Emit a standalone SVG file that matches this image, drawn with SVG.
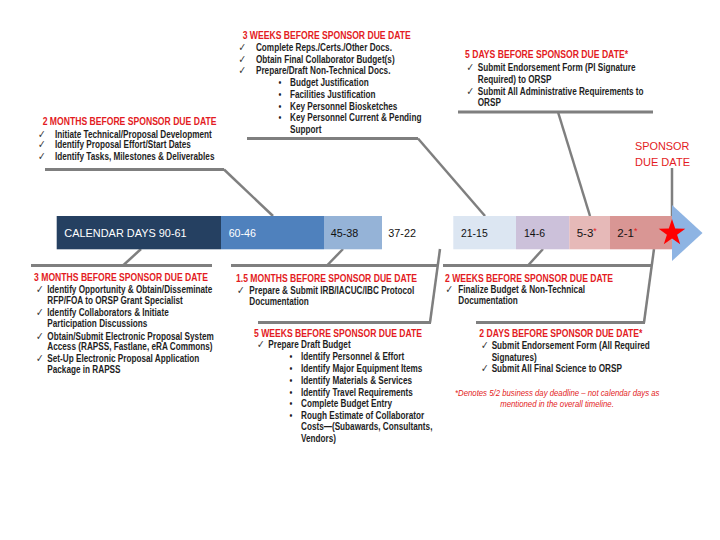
<svg xmlns="http://www.w3.org/2000/svg" width="720" height="540" viewBox="0 0 720 540">
<style>
.t{font-family:"Liberation Sans",Arial,sans-serif;font-weight:bold;font-size:10.5px;fill:#E31B23}
.b{font-family:"Liberation Sans",Arial,sans-serif;font-weight:bold;font-size:10px;fill:#1e1e1e}
.ck{font-family:"DejaVu Sans",sans-serif;font-size:11px;fill:#333}
.bu{font-family:"Liberation Sans",Arial,sans-serif;font-size:10px;fill:#1e1e1e}
.fn{font-family:"Liberation Sans",Arial,sans-serif;font-style:italic;font-size:9.5px;fill:#E31B23}
.bar{font-family:"Liberation Sans",Arial,sans-serif;font-size:11.5px}
.red{font-family:"Liberation Sans",Arial,sans-serif;font-size:11.5px;fill:#E31B23}
.ln{fill:none;stroke:#7F7F7F;stroke-width:2.5}
.hb{fill:none;stroke:#7F7F7F;stroke-width:3}
</style>
<rect width="720" height="540" fill="#fff"/>

<g id="connectors">
  <polyline class="hb" points="45,169.5 224,169.5"/>
  <line class="ln" x1="224" y1="169.5" x2="273" y2="216"/>
  <polyline class="hb" points="247,138.5 418,138.5"/>
  <line class="ln" x1="418" y1="138.5" x2="485" y2="216"/>
  <polyline class="hb" points="458,112 653,112"/>
  <line class="ln" x1="558" y1="112" x2="590" y2="216"/>
  <line class="ln" x1="672" y1="168" x2="672" y2="216"/>
  <line class="ln" x1="141" y1="249" x2="123" y2="265.5"/>
  <polyline class="hb" points="31,265.5 212,265.5"/>
  <line class="ln" x1="343" y1="249" x2="327" y2="265.5"/>
  <polyline class="hb" points="231,265.5 438,265.5"/>
  <line class="ln" x1="440" y1="249" x2="430" y2="322.5"/>
  <polyline class="hb" points="258,322.5 431,322.5"/>
  <line class="ln" x1="543" y1="249" x2="528" y2="265.5"/>
  <polyline class="hb" points="443,265.5 652,265.5"/>
  <line class="ln" x1="654" y1="249" x2="644" y2="322.5"/>
  <polyline class="hb" points="476,322.5 645,322.5"/>
</g>

<g id="timeline">
  <rect x="56.7" y="216" width="164.3" height="33.3" fill="#254061"/>
  <rect x="221" y="216" width="103" height="33.3" fill="#4F81BD"/>
  <rect x="324" y="216" width="58" height="33.3" fill="#95B3D7"/>
  <rect x="453.3" y="216" width="62.7" height="33.3" fill="#DCE6F2"/>
  <rect x="516" y="216" width="53.3" height="33.3" fill="#CCC1DA"/>
  <rect x="569.3" y="216" width="40.7" height="33.3" fill="#E6B9B8"/>
  <rect x="610" y="216" width="62" height="33.3" fill="#D99694"/>
  <polygon points="672,205 702.5,233 672,261" fill="#8EB4E3"/>
  <polygon points="672,219 675.2,228.6 685.3,228.7 677.1,234.7 680.2,244.3 672,238.4 663.8,244.3 666.9,234.7 658.7,228.7 668.8,228.6" fill="#FF0000"/>
  <text class="bar" x="64.3" y="237.3" fill="#fff" textLength="122.4" lengthAdjust="spacingAndGlyphs">CALENDAR DAYS 90-61</text>
  <text class="bar" x="228.7" y="237.3" fill="#fff" textLength="27.3" lengthAdjust="spacingAndGlyphs">60-46</text>
  <text class="bar" x="330.7" y="237.3" fill="#111" textLength="27.6" lengthAdjust="spacingAndGlyphs">45-38</text>
  <text class="bar" x="388.3" y="237.3" fill="#111" textLength="27.7" lengthAdjust="spacingAndGlyphs">37-22</text>
  <text class="bar" x="461" y="237.3" fill="#111" textLength="26.7" lengthAdjust="spacingAndGlyphs">21-15</text>
  <text class="bar" x="524" y="237.3" fill="#111" textLength="21" lengthAdjust="spacingAndGlyphs">14-6</text>
  <text class="bar" x="576.7" y="237.3" fill="#111">5-3<tspan fill="#E31B23" font-size="9" dy="-3">*</tspan></text>
  <text class="bar" x="617.3" y="237.3" fill="#111">2-1<tspan fill="#E31B23" font-size="9" dy="-3">*</tspan></text>
</g>

<g id="sponsor-due-date">
  <text class="red" x="635" y="150.2" textLength="54.3" lengthAdjust="spacingAndGlyphs">SPONSOR</text>
  <text class="red" x="635" y="165.9" textLength="55" lengthAdjust="spacingAndGlyphs">DUE DATE</text>
</g>

<g id="two-months" transform="translate(38 0) scale(0.82 1)">
  <text class="t" x="5.7" y="125.2">2 MONTHS BEFORE SPONSOR DUE DATE</text>
  <text class="ck" x="0" y="137.8">✓</text>
  <text class="ck" x="0" y="148.5">✓</text>
  <text class="ck" x="0" y="160.2">✓</text>
  <text class="b" x="20.7" y="137.8">Initiate Technical/Proposal Development</text>
  <text class="b" x="20.7" y="148.5">Identify Proposal Effort/Start Dates</text>
  <text class="b" x="20.7" y="160.2">Identify Tasks, Milestones &amp; Deliverables</text>
</g>

<g id="three-weeks" transform="translate(238.5 0) scale(0.82 1)">
  <text class="t" x="5.1" y="39.2">3 WEEKS BEFORE SPONSOR DUE DATE</text>
  <text class="ck" x="0" y="50.8">✓</text>
  <text class="ck" x="0" y="62.8">✓</text>
  <text class="ck" x="0" y="74.5">✓</text>
  <text class="b" x="21.3" y="50.8">Complete Reps./Certs./Other Docs.</text>
  <text class="b" x="21.3" y="62.8">Obtain Final Collaborator Budget(s)</text>
  <text class="b" x="21.3" y="74.5">Prepare/Draft Non-Technical Docs.</text>
  <text class="bu" x="48.8" y="86.2">•</text>
  <text class="bu" x="48.8" y="97.9">•</text>
  <text class="bu" x="48.8" y="109.6">•</text>
  <text class="bu" x="48.8" y="121.3">•</text>
  <text class="b" x="62.8" y="86.2">Budget Justification</text>
  <text class="b" x="62.8" y="97.9">Facilities Justification</text>
  <text class="b" x="62.8" y="109.6">Key Personnel Biosketches</text>
  <text class="b" x="62.8" y="121.3">Key Personnel Current &amp; Pending</text>
  <text class="b" x="62.8" y="132.8">Support</text>
</g>

<g id="five-days" transform="translate(466.5 0) scale(0.82 1)">
  <text class="t" x="-1.8" y="58.5">5 DAYS BEFORE SPONSOR DUE DATE*</text>
  <text class="ck" x="0" y="71.2">✓</text>
  <text class="ck" x="0" y="95.2">✓</text>
  <text class="b" x="13.7" y="71.2">Submit Endorsement Form (PI Signature</text>
  <text class="b" x="13.7" y="82.8">Required) to ORSP</text>
  <text class="b" x="13.7" y="95.2">Submit All Administrative Requirements to</text>
  <text class="b" x="13.7" y="106.2">ORSP</text>
</g>

<g id="three-months" transform="translate(36 0) scale(0.82 1)">
  <text class="t" x="-2.4" y="281.2">3 MONTHS BEFORE SPONSOR DUE DATE</text>
  <text class="ck" x="0" y="293.5">✓</text>
  <text class="ck" x="0" y="316.2">✓</text>
  <text class="ck" x="0" y="339.7">✓</text>
  <text class="ck" x="0" y="362.5">✓</text>
  <text class="b" x="13.8" y="293.5">Identify Opportunity &amp; Obtain/Disseminate</text>
  <text class="b" x="13.8" y="304.3">RFP/FOA to ORSP Grant Specialist</text>
  <text class="b" x="13.8" y="316.2">Identify Collaborators &amp; Initiate</text>
  <text class="b" x="13.8" y="327">Participation Discussions</text>
  <text class="b" x="13.8" y="339.7">Obtain/Submit Electronic Proposal System</text>
  <text class="b" x="13.8" y="350.5">Access (RAPSS, Fastlane, eRA Commons)</text>
  <text class="b" x="13.8" y="362.5">Set-Up Electronic Proposal Application</text>
  <text class="b" x="13.8" y="373.5">Package in RAPSS</text>
</g>

<g id="one-half-months" transform="translate(237 0) scale(0.82 1)">
  <text class="t" x="-1.2" y="282.5">1.5 MONTHS BEFORE SPONSOR DUE DATE</text>
  <text class="ck" x="0" y="294.2">✓</text>
  <text class="b" x="15" y="294.2">Prepare &amp; Submit IRB/IACUC/IBC Protocol</text>
  <text class="b" x="15" y="305">Documentation</text>
</g>

<g id="five-weeks" transform="translate(257 0) scale(0.82 1)">
  <text class="t" x="-3.7" y="337.5">5 WEEKS BEFORE SPONSOR DUE DATE</text>
  <text class="ck" x="0" y="348.5">✓</text>
  <text class="b" x="13.8" y="348.5">Prepare Draft Budget</text>
  <text class="bu" x="39.6" y="360.2">•</text>
  <text class="bu" x="39.6" y="372.2">•</text>
  <text class="bu" x="39.6" y="384">•</text>
  <text class="bu" x="39.6" y="395.8">•</text>
  <text class="bu" x="39.6" y="407.5">•</text>
  <text class="bu" x="39.6" y="419.2">•</text>
  <text class="b" x="53.7" y="360.2">Identify Personnel &amp; Effort</text>
  <text class="b" x="53.7" y="372.2">Identify Major Equipment Items</text>
  <text class="b" x="53.7" y="384">Identify Materials &amp; Services</text>
  <text class="b" x="53.7" y="395.8">Identify Travel Requirements</text>
  <text class="b" x="53.7" y="407.5">Complete Budget Entry</text>
  <text class="b" x="53.7" y="419.2">Rough Estimate of Collaborator</text>
  <text class="b" x="53.7" y="430.5">Costs—(Subawards, Consultants,</text>
  <text class="b" x="53.7" y="441.8">Vendors)</text>
</g>

<g id="two-weeks" transform="translate(445.5 0) scale(0.82 1)">
  <text class="t" x="-0.6" y="281.8">2 WEEKS BEFORE SPONSOR DUE DATE</text>
  <text class="ck" x="0" y="293.5">✓</text>
  <text class="b" x="15.6" y="293.5">Finalize Budget &amp; Non-Technical</text>
  <text class="b" x="15.6" y="304.5">Documentation</text>
</g>

<g id="two-days" transform="translate(481 0) scale(0.82 1)">
  <text class="t" x="-2" y="337.5">2 DAYS BEFORE SPONSOR DUE DATE*</text>
  <text class="ck" x="0" y="349.2">✓</text>
  <text class="ck" x="0" y="372.5">✓</text>
  <text class="b" x="13" y="349.2">Submit Endorsement Form (All Required</text>
  <text class="b" x="13" y="360.8">Signatures)</text>
  <text class="b" x="13" y="372.5">Submit All Final Science to ORSP</text>
  <text class="fn" x="-31.7" y="396.5">*Denotes 5/2 business day deadline – not calendar days as</text>
  <text class="fn" x="92.7" y="407.5" text-anchor="middle">mentioned in the overall timeline.</text>
</g>
</svg>
